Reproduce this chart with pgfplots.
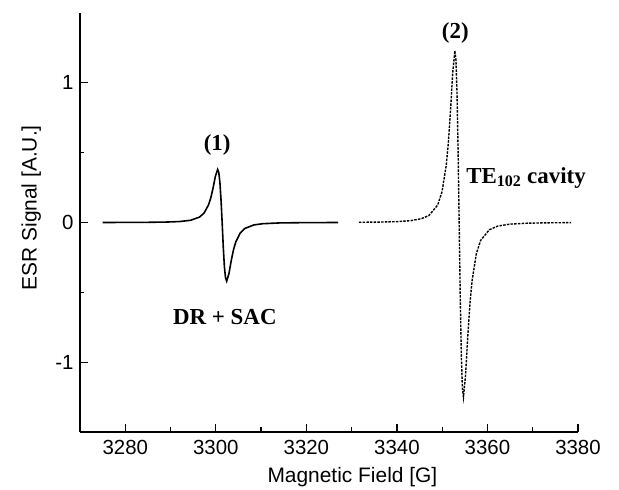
\documentclass[border=0pt]{standalone}
\usepackage{fontspec}
\setmainfont{Liberation Sans}
\newfontfamily\tnr{Liberation Serif}
\usepackage{pgfplots}
\pgfplotsset{compat=1.18}

% ESR spectra
\pgfplotstableread{
x y
3275 0.000
3280 0.0006
3285 0.0013
3289 0.0031
3292 0.0068
3294.4 0.0157
3296.4 0.0388
3297.4 0.0674
3298.4 0.1267
3298.9 0.1777
3299.4 0.248
3299.9 0.331
3300.4 0.380
3300.65 0.359
3300.9 0.288
3301.15 0.162
3301.4 0.000
3301.65 -0.179
3301.9 -0.318
3302.15 -0.397
3302.4 -0.420
3302.9 -0.366
3303.4 -0.274
3303.9 -0.196
3304.4 -0.140
3305.4 -0.0745
3306.4 -0.0428
3308.4 -0.0174
3310.4 -0.0086
3314 -0.0032
3319 -0.0012
3327 0.000
}\sampleone

\pgfplotstableread{
x y
3331.6 0.0015
3336 0.003
3340 0.0063
3343 0.013
3345.4 0.027
3347.1 0.051
3349.0 0.125
3349.95 0.218
3350.9 0.410
3351.375 0.575
3351.85 0.803
3352.325 1.071
3352.8 1.230
3353.04 1.163
3353.275 0.931
3353.51 0.525
3353.75 0.000
3353.99 -0.533
3354.225 -0.946
3354.46 -1.182
3354.7 -1.250
3355.175 -1.089
3355.65 -0.816
3356.125 -0.584
3356.6 -0.417
3357.55 -0.222
3358.5 -0.128
3360.4 -0.052
3362.3 -0.0255
3365 -0.0116
3369 -0.0047
3374 -0.002
3378.5 -0.001
}\sampletwo

\begin{document}
\begin{tikzpicture}
\begin{axis}[
  scale only axis,
  width=498bp, height=419bp,
  xmin=3270, xmax=3380,
  ymin=-1.5, ymax=1.5,
  axis lines=left,
  axis line style={-, line width=1.5bp},
  xtick={3280,3300,...,3380},
  ytick={-1,0,1},
  minor x tick num=1,
  minor y tick num=1,
  tick align=inside,
  major tick length=8bp,
  minor tick length=4.5bp,
  every tick/.style={black, line width=1.3bp},
  /pgf/number format/assume math mode=true,
  /pgf/number format/1000 sep={},
  tick label style={font=\fontsize{20.5}{22}\selectfont},
  xticklabel style={yshift=-5bp},
  yticklabel style={xshift=-3bp},
  label style={font=\fontsize{21}{23}\selectfont},
  xlabel={Magnetic Field [G]},
  ylabel={ESR Signal [A.U.]},
  xlabel style={at={(axis description cs:0.547,-0.107)}, anchor=center},
  ylabel style={at={(axis description cs:-0.098,0.535)}, anchor=center},
  clip=false,
]
\addplot[black, line width=1.6bp] table[x=x, y=y] {\sampleone};
\addplot[black, line width=1.4bp, dash pattern=on 2.5bp off 1.2bp] table[x=x, y=y] {\sampletwo};

\node[font=\tnr\bfseries\fontsize{23}{25}\selectfont] at (axis cs:3300.3,0.555) {(1)};
\node[font=\tnr\bfseries\fontsize{23}{25}\selectfont] at (axis cs:3352.9,1.355) {(2)};
\node[font=\tnr\bfseries\fontsize{23}{25}\selectfont] at (axis cs:3302,-0.68) {DR + SAC};
\node[font=\tnr\bfseries\fontsize{23}{25}\selectfont, anchor=base west, inner sep=0pt] at (axis cs:3355.3,0.281) {TE\textsubscript{102} cavity};
\end{axis}
\path (current axis.south west) ++(-80bp,-56bp) rectangle ++(619bp,488bp);
\end{tikzpicture}
\end{document}
